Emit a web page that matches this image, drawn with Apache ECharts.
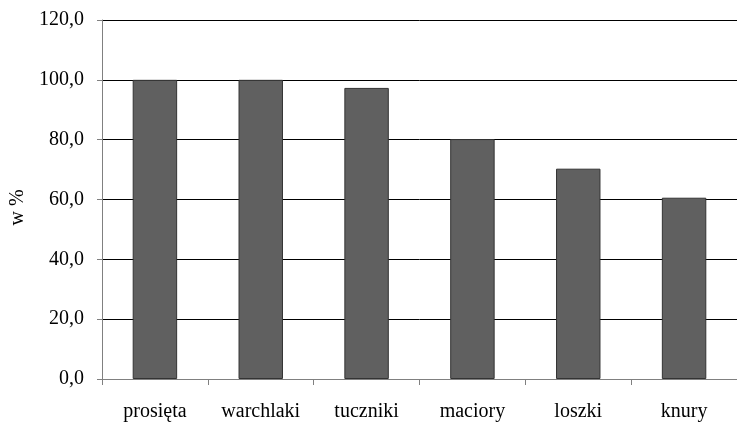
<!DOCTYPE html>
<html><head><meta charset="utf-8">
<script src="https://cdn.jsdelivr.net/npm/echarts@6/dist/echarts.min.js"></script>
<style>html,body{margin:0;padding:0;background:#fff}#c{width:737px;height:422px}</style>
</head><body><div id="c"></div>
<script>
const categories = ["prosięta", "warchlaki", "tuczniki", "maciory", "loszki", "knury"];
const values = [100.0, 100.0, 97.3, 80.2, 70.3, 60.6];
const yTicks = [0, 20, 40, 60, 80, 100, 120];

const chart = echarts.init(document.getElementById('c'), null, {renderer: 'canvas'});
const font = '"Liberation Serif", "DejaVu Serif", serif';
chart.setOption({
  animation: false,
  backgroundColor: '#fff',
  grid: {left: 101, right: 0, top: 20, bottom: 41, containLabel: false},
  xAxis: {
    type: 'category',
    data: categories,
    axisLine: {lineStyle: {color: '#808080', width: 1}},
    axisTick: {show: true, alignWithLabel: false, length: 6, lineStyle: {color: '#808080'}},
    axisLabel: {color: '#000', fontFamily: font, fontSize: 20, margin: 23}
  },
  yAxis: {
    type: 'value',
    min: yTicks[0], max: yTicks[yTicks.length - 1], interval: 20,
    name: 'w %',
    nameLocation: 'middle',
    nameGap: 74,
    nameRotate: 90,
    nameTextStyle: {color: '#000', fontFamily: font, fontSize: 20, padding: [0, 16, 0, 0]},
    axisLine: {show: true, lineStyle: {color: '#808080', width: 1}},
    axisTick: {show: true, inside: false, length: 5, lineStyle: {color: '#808080'}},
    axisLabel: {color: '#000', fontFamily: font, fontSize: 20, margin: 18,
      formatter: v => v.toFixed(1).replace('.', ',')},
    splitLine: {show: true, lineStyle: {color: '#000', width: 1}}
  },
  series: [{
    type: 'bar',
    data: values,
    barWidth: '42%',
    itemStyle: {color: '#606060', borderColor: '#333', borderWidth: 1}
  }]
});
</script></body></html>
